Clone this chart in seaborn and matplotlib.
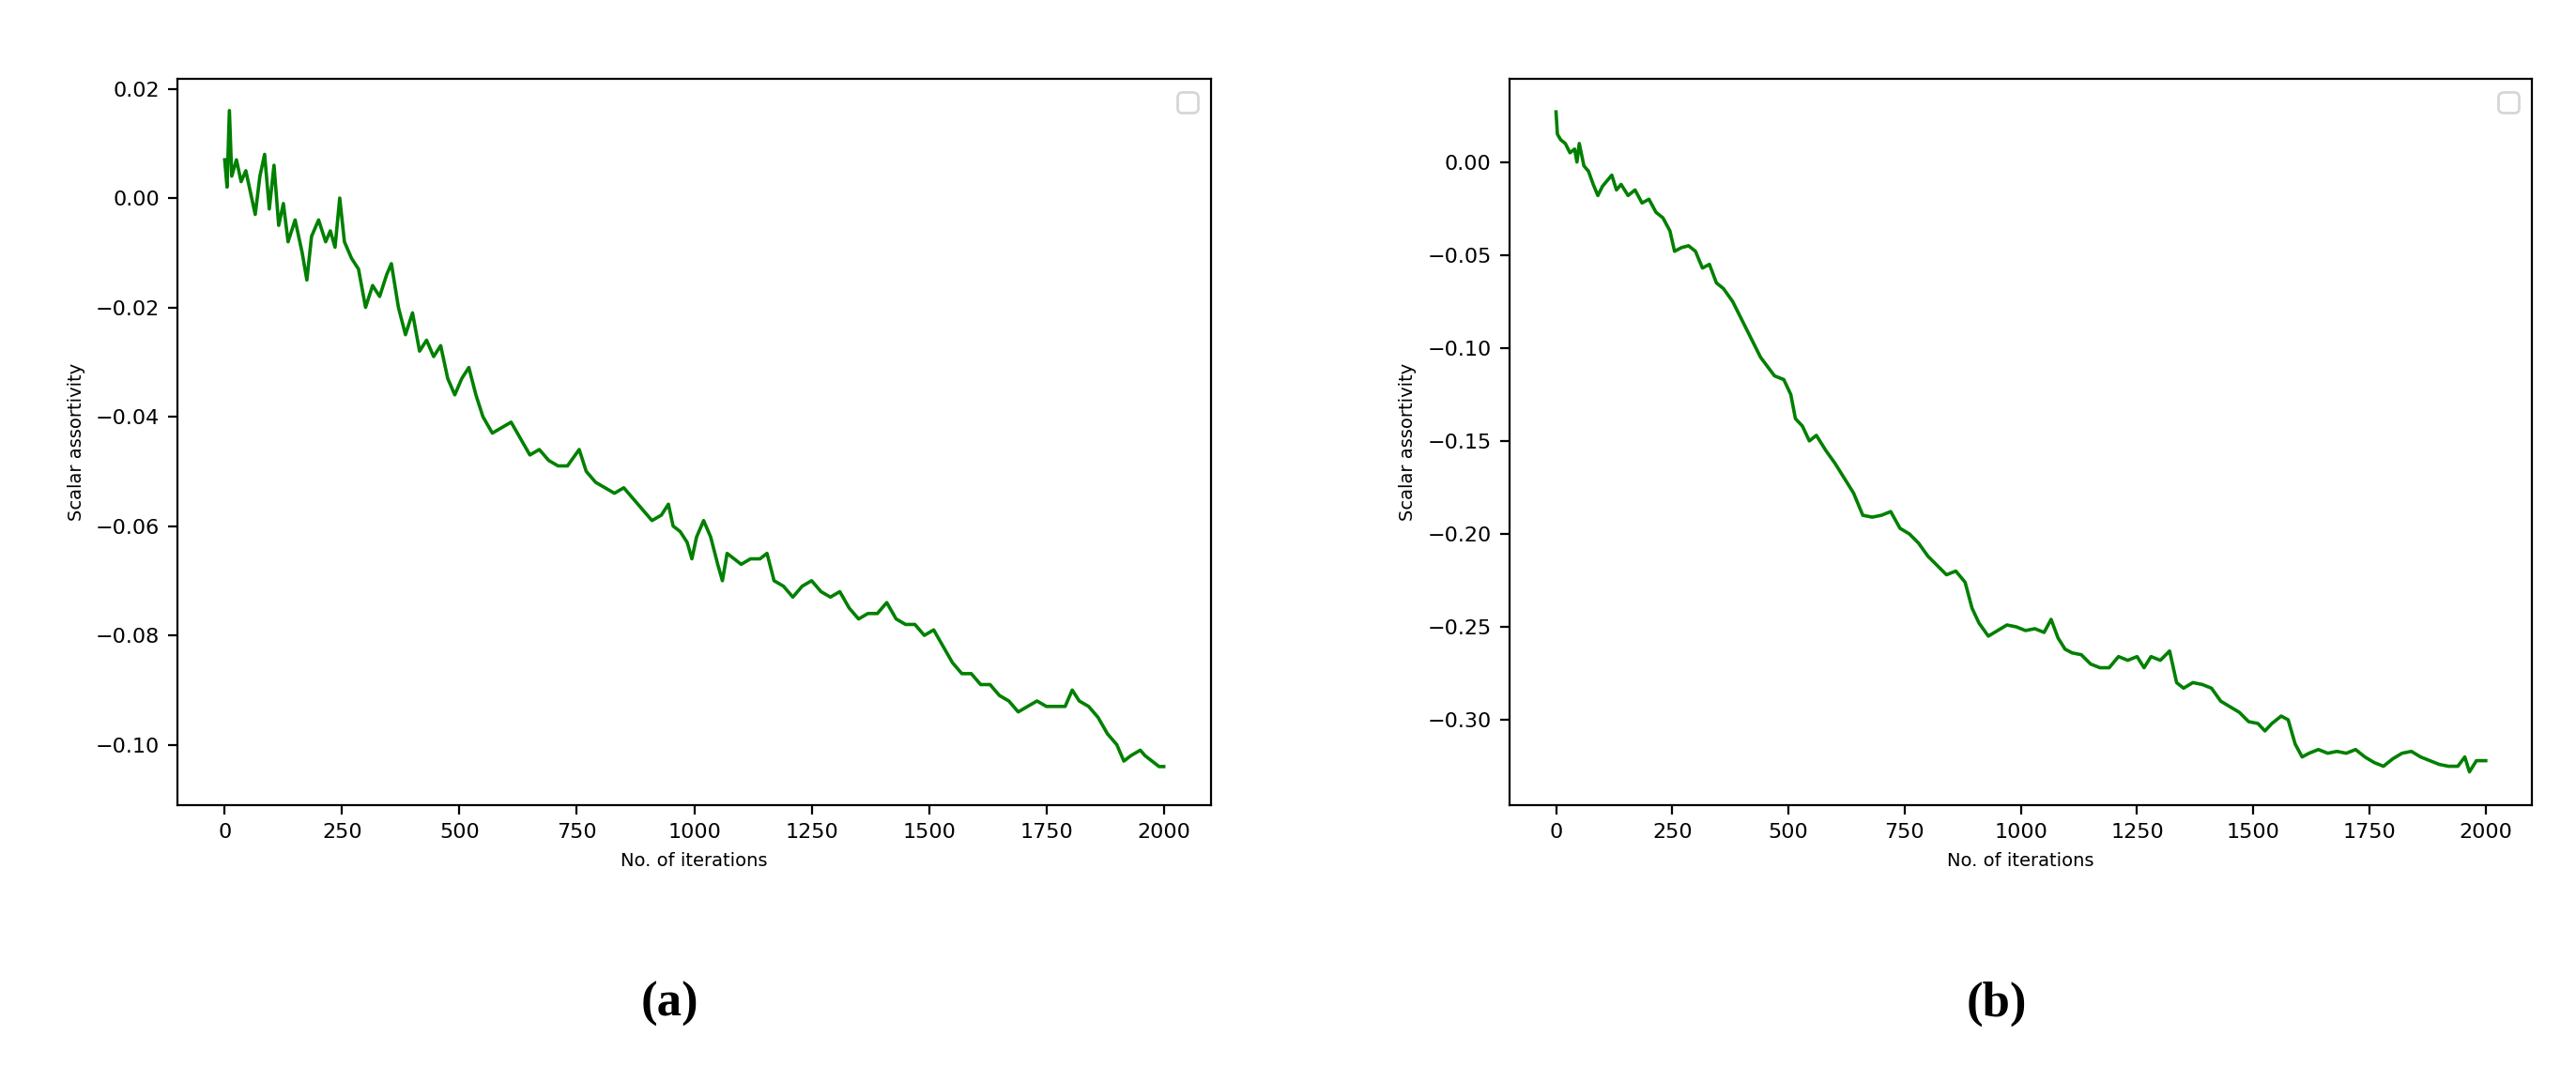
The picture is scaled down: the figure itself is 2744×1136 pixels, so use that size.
import matplotlib
matplotlib.use("Agg")
import matplotlib.pyplot as plt
import seaborn as sns
import pandas as pd

# ------------------------------
# Data
# ------------------------------
iters_a = [0, 5, 10, 15, 25, 35, 45, 55, 65, 75, 85, 95, 105, 115, 125, 135, 150, 165, 175, 185,
           200, 215, 225, 235, 245, 255, 270, 285, 300, 315, 330, 345, 355, 370, 385, 400, 415, 430,
           445, 460, 475, 490, 505, 520, 535, 550, 570, 590, 610, 630, 650, 670, 690, 710, 730, 755,
           770, 790, 810, 830, 850, 870, 890, 910, 930, 945, 955, 970, 985, 995, 1005, 1020, 1035,
           1050, 1060, 1070, 1085, 1100, 1120, 1140, 1155, 1170, 1190, 1210, 1230, 1250, 1270, 1290,
           1310, 1330, 1350, 1370, 1390, 1410, 1430, 1450, 1470, 1490, 1510, 1530, 1550, 1570, 1590,
           1610, 1630, 1650, 1670, 1690, 1710, 1730, 1750, 1770, 1790, 1805, 1820, 1840, 1860, 1880,
           1900, 1915, 1930, 1950, 1960, 1975, 1990, 2000]
assort_a = [0.007, 0.002, 0.016, 0.004, 0.007, 0.003, 0.005, 0.001, -0.003, 0.004, 0.008, -0.002,
            0.006, -0.005, -0.001, -0.008, -0.004, -0.010, -0.015, -0.007, -0.004, -0.008, -0.006,
            -0.009, 0.000, -0.008, -0.011, -0.013, -0.020, -0.016, -0.018, -0.014, -0.012, -0.020,
            -0.025, -0.021, -0.028, -0.026, -0.029, -0.027, -0.033, -0.036, -0.033, -0.031, -0.036,
            -0.040, -0.043, -0.042, -0.041, -0.044, -0.047, -0.046, -0.048, -0.049, -0.049, -0.046,
            -0.050, -0.052, -0.053, -0.054, -0.053, -0.055, -0.057, -0.059, -0.058, -0.056, -0.060,
            -0.061, -0.063, -0.066, -0.062, -0.059, -0.062, -0.067, -0.070, -0.065, -0.066, -0.067,
            -0.066, -0.066, -0.065, -0.070, -0.071, -0.073, -0.071, -0.070, -0.072, -0.073, -0.072,
            -0.075, -0.077, -0.076, -0.076, -0.074, -0.077, -0.078, -0.078, -0.080, -0.079, -0.082,
            -0.085, -0.087, -0.087, -0.089, -0.089, -0.091, -0.092, -0.094, -0.093, -0.092, -0.093,
            -0.093, -0.093, -0.090, -0.092, -0.093, -0.095, -0.098, -0.100, -0.103, -0.102, -0.101,
            -0.102, -0.103, -0.104, -0.104]

iters_b = [0, 3, 10, 20, 30, 40, 45, 50, 60, 70, 80, 90, 100, 110, 120, 130, 140, 155, 170, 185,
           200, 215, 230, 245, 255, 270, 285, 300, 315, 330, 345, 360, 380, 400, 420, 440, 455, 470,
           490, 505, 515, 530, 545, 560, 580, 600, 620, 640, 660, 680, 700, 720, 740, 760, 780, 800,
           820, 840, 860, 880, 895, 910, 930, 950, 970, 990, 1010, 1030, 1050, 1065, 1080, 1095,
           1110, 1130, 1150, 1170, 1190, 1210, 1230, 1250, 1265, 1280, 1300, 1320, 1335, 1350, 1370,
           1390, 1410, 1430, 1450, 1470, 1490, 1510, 1525, 1540, 1560, 1575, 1590, 1605, 1620, 1640,
           1660, 1680, 1700, 1720, 1740, 1760, 1780, 1800, 1820, 1840, 1860, 1880, 1900, 1920, 1940,
           1955, 1965, 1980, 2000]
assort_b = [0.027, 0.015, 0.012, 0.010, 0.005, 0.007, 0.000, 0.010, -0.002, -0.005, -0.012, -0.018,
            -0.013, -0.010, -0.007, -0.015, -0.012, -0.018, -0.015, -0.022, -0.020, -0.027, -0.030,
            -0.037, -0.048, -0.046, -0.045, -0.048, -0.057, -0.055, -0.065, -0.068, -0.075, -0.085,
            -0.095, -0.105, -0.110, -0.115, -0.117, -0.125, -0.138, -0.142, -0.150, -0.147, -0.155,
            -0.162, -0.170, -0.178, -0.190, -0.191, -0.190, -0.188, -0.197, -0.200, -0.205, -0.212,
            -0.217, -0.222, -0.220, -0.226, -0.240, -0.248, -0.255, -0.252, -0.249, -0.250, -0.252,
            -0.251, -0.253, -0.246, -0.256, -0.262, -0.264, -0.265, -0.270, -0.272, -0.272, -0.266,
            -0.268, -0.266, -0.272, -0.266, -0.268, -0.263, -0.280, -0.283, -0.280, -0.281, -0.283,
            -0.290, -0.293, -0.296, -0.301, -0.302, -0.306, -0.302, -0.298, -0.300, -0.313, -0.320,
            -0.318, -0.316, -0.318, -0.317, -0.318, -0.316, -0.320, -0.323, -0.325, -0.321, -0.318,
            -0.317, -0.320, -0.322, -0.324, -0.325, -0.325, -0.320, -0.328, -0.322, -0.322]

panel_labels = ["(a)", "(b)"]

# ------------------------------
# Figure
# ------------------------------
fig = plt.figure(figsize=(13.72, 5.68), dpi=200)
ax_a = fig.add_axes([0.069, 0.245, 0.401, 0.681])
ax_b = fig.add_axes([0.586, 0.245, 0.397, 0.681])

for ax, xs, ys, lab, cx in [(ax_a, iters_a, assort_a, panel_labels[0], 0.26),
                             (ax_b, iters_b, assort_b, panel_labels[1], 0.775)]:
    df = pd.DataFrame({"iter": xs, "val": ys})
    sns.lineplot(data=df, x="iter", y="val", ax=ax, color="green", linewidth=1.3)
    ax.set_xlabel("No. of iterations", fontsize=7)
    ax.set_ylabel("Scalar assortivity", fontsize=7)
    ax.tick_params(labelsize=8)
    ax.set_xticks([0, 250, 500, 750, 1000, 1250, 1500, 1750, 2000])
    ax.legend(handles=[], loc="upper right")
    fig.text(cx, 0.058, lab, ha="center", va="center", fontsize=19,
             fontweight="bold", family="Liberation Serif")

ax_a.set_yticks([0.02, 0.00, -0.02, -0.04, -0.06, -0.08, -0.10])
ax_a.set_ylim(-0.111, 0.0218)
ax_b.set_yticks([0.00, -0.05, -0.10, -0.15, -0.20, -0.25, -0.30])

fig.savefig("out.png", dpi=200)
